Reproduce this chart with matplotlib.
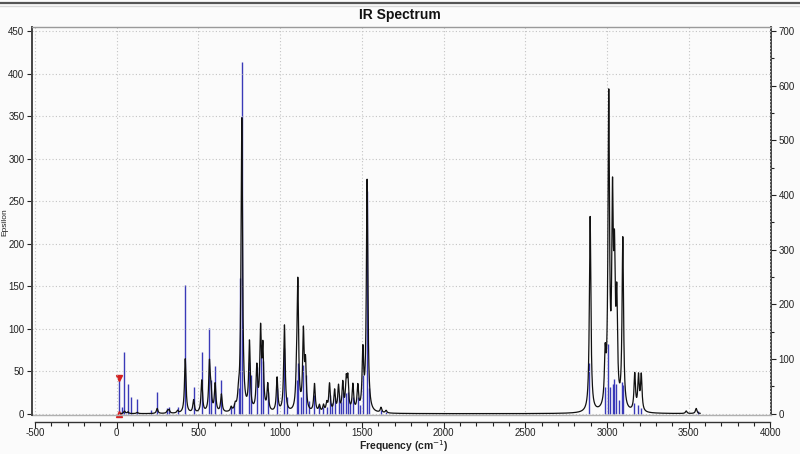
import numpy as np
import matplotlib
matplotlib.use("Agg")
import matplotlib.pyplot as plt
from matplotlib.ticker import MultipleLocator

# ---------------- data ----------------
# IR stick intensities (km/mol, right axis)
stick_freq = [12, 31, 47, 68, 84, 125, 211, 247, 310, 320, 372, 419, 470, 520, 567, 576,
              602, 640, 700, 720, 745, 757, 765, 808, 820, 857, 880, 893, 924, 981,
              1026, 1040, 1100, 1108, 1125, 1142, 1155, 1175, 1210, 1235, 1260, 1285,
              1302, 1320, 1333, 1357, 1370, 1383, 1404, 1414, 1430, 1445, 1475, 1490,
              1506, 1532, 1545, 1617, 1648,
              2893, 2985, 3005, 3021, 3036, 3046, 3056, 3076, 3091, 3101, 3168, 3189,
              3209, 3555]
stick_int = [65, 12, 112, 54, 30, 27, 6, 40, 11, 12, 13, 235, 48, 113, 156, 62,
             87, 62, 12, 19, 47, 249, 644, 95, 70, 86, 124, 96, 39, 47,
             121, 31, 62, 93, 31, 90, 70, 23, 34, 16, 12, 12,
             34, 19, 28, 34, 22, 39, 37, 40, 19, 31, 31, 16,
             70, 407, 47, 6, 3,
             92, 49, 128, 49, 55, 64, 54, 25, 58, 52, 19, 16,
             10, 5]

# broadened spectrum peaks (epsilon, left axis)
curve_freq = [47, 68, 125, 247, 310, 320, 372, 419, 470, 520, 567, 576, 602, 640,
              700, 725, 745, 765, 812, 857, 880, 894, 924, 981, 1026, 1100, 1108,
              1142, 1155, 1210, 1240, 1265, 1285, 1302, 1333, 1357, 1383, 1404, 1414,
              1445, 1475, 1506, 1532, 1617, 1648,
              2897, 2989, 3011, 3034, 3046, 3060, 3097, 3170, 3193, 3210, 3485, 3546]
curve_eps = [3, 2, 1.5, 6, 3, 4, 3, 64, 15, 38, 56, 22, 33, 21,
             5, 6, 13, 345, 80, 50, 92, 70, 31, 40, 102, 26, 148,
             90, 52, 33, 8, 8, 10, 33, 25, 30, 33, 34, 36,
             31, 29, 68, 272, 6, 3,
             230, 55, 360, 225, 150, 115, 200, 43, 40, 42, 3, 6]
curve_hwhm = 5.5

marker_freq = 12
marker_int = 65

x_ticks = [-500, 0, 500, 1000, 1500, 2000, 2500, 3000, 3500, 4000]
left_ticks = list(range(0, 451, 50))
right_ticks = list(range(0, 701, 100))

# ---------------- figure ----------------
plt.rcParams['font.family'] = ['Liberation Sans', 'DejaVu Sans']
W, H = 800, 454
fig = plt.figure(figsize=(W / 100, H / 100), dpi=100, facecolor='#fbfbfb')

L, R, T, B = 32, 771, 27, 415
ax = fig.add_axes([L / W, 1 - B / H, (R - L) / W, (B - T) / H])
ax2 = ax.twinx()
ax.set_zorder(2)
ax2.set_zorder(1)
ax.patch.set_visible(False)
ax2.patch.set_facecolor('#fefef3')

xs = np.linspace(25, 3570, 12000)
cf = np.asarray(curve_freq, float)[:, None]
ce = np.asarray(curve_eps, float)[:, None]
ys = (ce * curve_hwhm ** 2 / ((xs[None, :] - cf) ** 2 + curve_hwhm ** 2)).sum(axis=0)
ax.plot(xs, ys, color='#111111', lw=0.9, zorder=3)

ax2.vlines(stick_freq, 0, stick_int, color='#3a3ab8', lw=1.0, zorder=2)
ax2.plot([marker_freq], [marker_int], marker='v', color='#d42020', ms=4, ls='none',
         clip_on=False, zorder=4)
ax2.plot([marker_freq], [0], marker='^', color='#d42020', ms=4, ls='none',
         clip_on=False, zorder=4)

# scales
ax.set_xlim(-519, 4004)
ax.set_ylim(-1.5, 454.7)
ax2.set_ylim(-1.5 / 0.6429, 454.7 / 0.6429)

ax.set_xticks(x_ticks)
ax.set_xticklabels([str(v) for v in x_ticks])
ax.xaxis.set_minor_locator(MultipleLocator(100))
ax.set_yticks(left_ticks)
ax.set_yticklabels([str(v) for v in left_ticks])
ax2.set_yticks(right_ticks)
ax2.set_yticklabels([str(v) for v in right_ticks])
ax2.yaxis.set_minor_locator(MultipleLocator(50))

ax.grid(True, which='major', color='#c4c4c4', lw=0.8, ls=(0, (1, 2)))
ax.set_axisbelow(True)

tc = '#222222'
ax.tick_params(axis='x', which='major', direction='out', length=4, width=0.8,
               colors=tc, labelsize=7, pad=0.5)
ax.tick_params(axis='x', which='minor', direction='out', length=3, width=0.8, colors=tc)
ax.tick_params(axis='y', which='major', direction='out', length=3.5, width=0.8,
               colors=tc, labelsize=7, pad=2)
ax2.tick_params(axis='y', which='major', direction='out', length=3.5, width=0.8,
                colors=tc, labelsize=7, pad=2)
ax2.tick_params(axis='y', which='minor', direction='out', length=2, width=0.8, colors=tc)

for s in ['right']:
    ax.spines[s].set_visible(False)
for s in ['left', 'top', 'bottom']:
    ax2.spines[s].set_visible(False)
ax.spines['left'].set_color('#444444')
ax.spines['left'].set_linewidth(1.4)
ax2.spines['right'].set_color('#444444')
ax2.spines['right'].set_linewidth(1.4)
ax.spines['top'].set_color('#9a9a9a')
ax.spines['top'].set_linewidth(1.0)
ax.spines['bottom'].set_position(('outward', 5))
ax.spines['bottom'].set_bounds(-500, 4000)
ax.spines['bottom'].set_color('#333333')
ax.spines['bottom'].set_linewidth(1.0)
ax.plot([0, 1], [0, 0], transform=ax.transAxes, color='#b0b0b0', lw=1.0,
        clip_on=False, zorder=1)

fig.text(404 / W, 1 - 446 / H, 'Frequency (cm$^{-1}$)', ha='center', va='center',
         fontsize=7.5, fontweight='bold', color=tc)
fig.text(400 / W, 1 - 15 / H, 'IR Spectrum', ha='center', va='center',
         fontsize=10, fontweight='bold', color='#111111')
fig.text(4.5 / W, 1 - 222 / H, 'Epsilon', rotation=90, ha='center', va='center',
         fontsize=6, color=tc)

# header band lines
fig.add_artist(plt.Line2D([0, 1], [1 - 2.5 / H, 1 - 2.5 / H], color='#555555', lw=1.6))
fig.add_artist(plt.Line2D([0, 1], [1 - 6 / H, 1 - 6 / H], color='#d8d8d8', lw=1.0))

fig.savefig('out.png', dpi=100, facecolor=fig.get_facecolor())
